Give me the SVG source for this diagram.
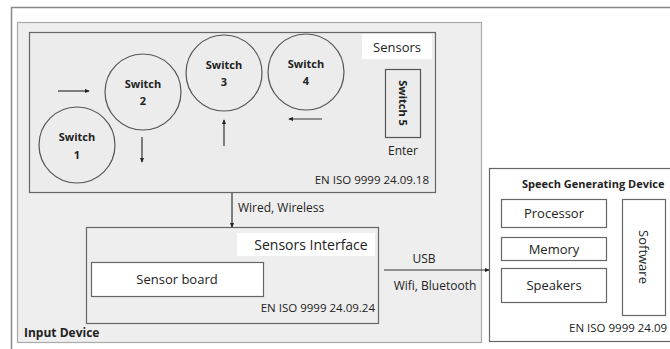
<svg xmlns="http://www.w3.org/2000/svg" width="670" height="349" viewBox="0 0 670 349">
<defs>
<style>
text{font-family:"Open Sans","Liberation Sans",sans-serif;fill:#222;}
.b{font-weight:bold;}
.c{text-anchor:middle;}
.box{fill:#fff;stroke:#666;stroke-width:1.2;}
.sw{fill:none;stroke:#555;stroke-width:1.2;}
.ln{stroke:#333;stroke-width:1.2;fill:none;}
</style>
<marker id="ah" viewBox="0 0 6 6" refX="5" refY="3" markerWidth="5" markerHeight="5" orient="auto" markerUnits="userSpaceOnUse">
<path d="M0,0.5 L6,3 L0,5.5 Z" fill="#222"/>
</marker>
</defs>
<rect width="670" height="349" fill="#fff"/>
<path d="M11.5,350 V7.5 H671" fill="none" stroke="#888" stroke-width="1.5"/>
<g id="input-device">
<rect x="17.5" y="22.5" width="464" height="320" fill="#eeeeee" stroke="#aaa" stroke-width="1.2"/>
<text x="24" y="337" class="b" font-size="12">Input Device</text>
</g>
<g id="sensors">
<rect x="29.5" y="32.5" width="406" height="160" fill="#ececec" stroke="#666" stroke-width="1.2"/>
<rect x="362" y="34" width="70" height="25" fill="#fff"/>
<text x="397" y="52" class="c" font-size="13">Sensors</text>
<text x="429" y="184" text-anchor="end" font-size="11.5">EN ISO 9999 24.09.18</text>
</g>
<g id="switch1"><circle cx="77" cy="145" r="38" class="sw"/><text x="77" y="141" class="c b" font-size="11">Switch</text><text x="77" y="159" class="c b" font-size="11">1</text></g>
<g id="switch2"><circle cx="143" cy="92" r="38" class="sw"/><text x="143" y="88" class="c b" font-size="11">Switch</text><text x="143" y="105" class="c b" font-size="11">2</text></g>
<g id="switch3"><circle cx="224" cy="73" r="38" class="sw"/><text x="224" y="69" class="c b" font-size="11">Switch</text><text x="224" y="86" class="c b" font-size="11">3</text></g>
<g id="switch4"><circle cx="306" cy="72" r="38" class="sw"/><text x="306" y="68" class="c b" font-size="11">Switch</text><text x="306" y="85" class="c b" font-size="11">4</text></g>
<g id="switch5">
<rect x="385.5" y="69.5" width="35" height="68" fill="none" stroke="#555" stroke-width="1.2"/>
<text transform="translate(399,103) rotate(90)" class="c b" font-size="11">Switch 5</text>
<text x="403" y="155" class="c" font-size="12">Enter</text>
</g>
<g id="sensors-interface">
<rect x="86.5" y="227.5" width="292" height="96" fill="none" stroke="#666" stroke-width="1.2"/>
<rect x="237" y="233" width="138" height="23" fill="#fff"/>
<text x="311" y="250" class="c" font-size="14">Sensors Interface</text>
<text x="375" y="312" text-anchor="end" font-size="11.5">EN ISO 9999 24.09.24</text>
</g>
<g id="sensor-board">
<rect x="91.5" y="262.5" width="172" height="34" class="box"/>
<text x="177" y="284" class="c" font-size="13">Sensor board</text>
</g>
<g id="speech-generating-device">
<rect x="489.5" y="168.5" width="190" height="173" fill="#fff" stroke="#666" stroke-width="1.2"/>
<text x="522" y="188" class="b" font-size="11">Speech Generating Device</text>
<text x="569" y="332" font-size="11.5">EN ISO 9999 24.09</text>
</g>
<g id="processor"><rect x="501.5" y="199.5" width="105" height="28" class="box"/><text x="554" y="218" class="c" font-size="13">Processor</text></g>
<g id="memory"><rect x="501.5" y="237.5" width="105" height="23" class="box"/><text x="554" y="254" class="c" font-size="13">Memory</text></g>
<g id="speakers"><rect x="501.5" y="268.5" width="105" height="34" class="box"/><text x="554" y="290" class="c" font-size="13">Speakers</text></g>
<g id="software"><rect x="622.5" y="199.5" width="43" height="116" class="box"/><text transform="translate(639,257) rotate(90)" class="c" font-size="13">Software</text></g>
<g id="connectors">
<line x1="58" y1="91" x2="89" y2="91" class="ln" marker-end="url(#ah)"/>
<line x1="142" y1="137" x2="142" y2="162" class="ln" marker-end="url(#ah)"/>
<line x1="224" y1="146" x2="224" y2="120" class="ln" marker-end="url(#ah)"/>
<line x1="322" y1="119" x2="289" y2="119" class="ln" marker-end="url(#ah)"/>
<line x1="232" y1="193" x2="232" y2="227" class="ln" marker-end="url(#ah)"/>
<text x="238" y="212" font-size="12">Wired, Wireless</text>
<line x1="384" y1="270" x2="489" y2="270" class="ln" marker-end="url(#ah)"/>
<text x="424" y="263" class="c" font-size="12">USB</text>
<text x="435" y="290" class="c" font-size="12">Wifi, Bluetooth</text>
</g>
</svg>
